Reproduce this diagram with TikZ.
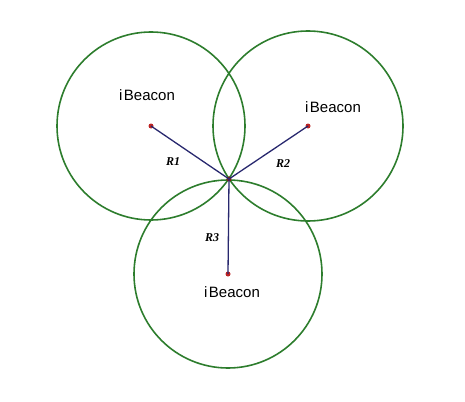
\documentclass[tikz,border=0pt]{standalone}
\usepackage{fontspec}
\setmainfont{Liberation Serif}
\newfontfamily\labelfont{Liberation Sans}
\definecolor{ringgreen}{RGB}{45,125,45}
\definecolor{linkblue}{RGB}{40,40,110}
\definecolor{dotred}{RGB}{190,35,35}
\begin{document}
\begin{tikzpicture}[x=1pt,y=-1pt,
  ring/.style={draw=ringgreen,line width=1.6pt},
  link/.style={draw=linkblue,line width=1.3pt},
  dot/.style={circle,fill=dotred,inner sep=0pt,minimum size=5pt},
  beacon/.style={font=\labelfont\fontsize{15}{17}\selectfont,inner sep=0pt},
  rlabel/.style={font=\bfseries\itshape\fontsize{12}{14}\selectfont,inner sep=0pt}]
\useasboundingbox (0,0) rectangle (465,401);
\coordinate (c1) at (151,126);
\coordinate (c2) at (308,126);
\coordinate (c3) at (228,274);
\draw[ring] (c1) circle[radius=94];
\draw[ring] (c2) circle[radius=95];
\draw[ring] (c3) circle[radius=94];
\node[dot] (b1) at (c1) {};
\node[dot] (b2) at (c2) {};
\node[dot] (b3) at (c3) {};
\node[circle,fill=dotred!70!black,inner sep=0pt,minimum size=5pt] (p) at (229,179) {};
\draw[link] (b1.center) -- (p.center);
\draw[link] (b2.center) -- (p.center);
\draw[link] (b3.center) -- (p.center);
\node[beacon] (l1) at (147,95) {i\hspace{1.5pt}Beacon};
\node[beacon] (l2) at (333,107) {i\hspace{1.5pt}Beacon};
\node[beacon] (l3) at (232,292) {i\hspace{1.5pt}Beacon};
\node[rlabel] (r1) at (173,162) {R1};
\node[rlabel] (r2) at (283,164) {R2};
\node[rlabel] (r3) at (212,238) {R3};
\end{tikzpicture}
\end{document}
